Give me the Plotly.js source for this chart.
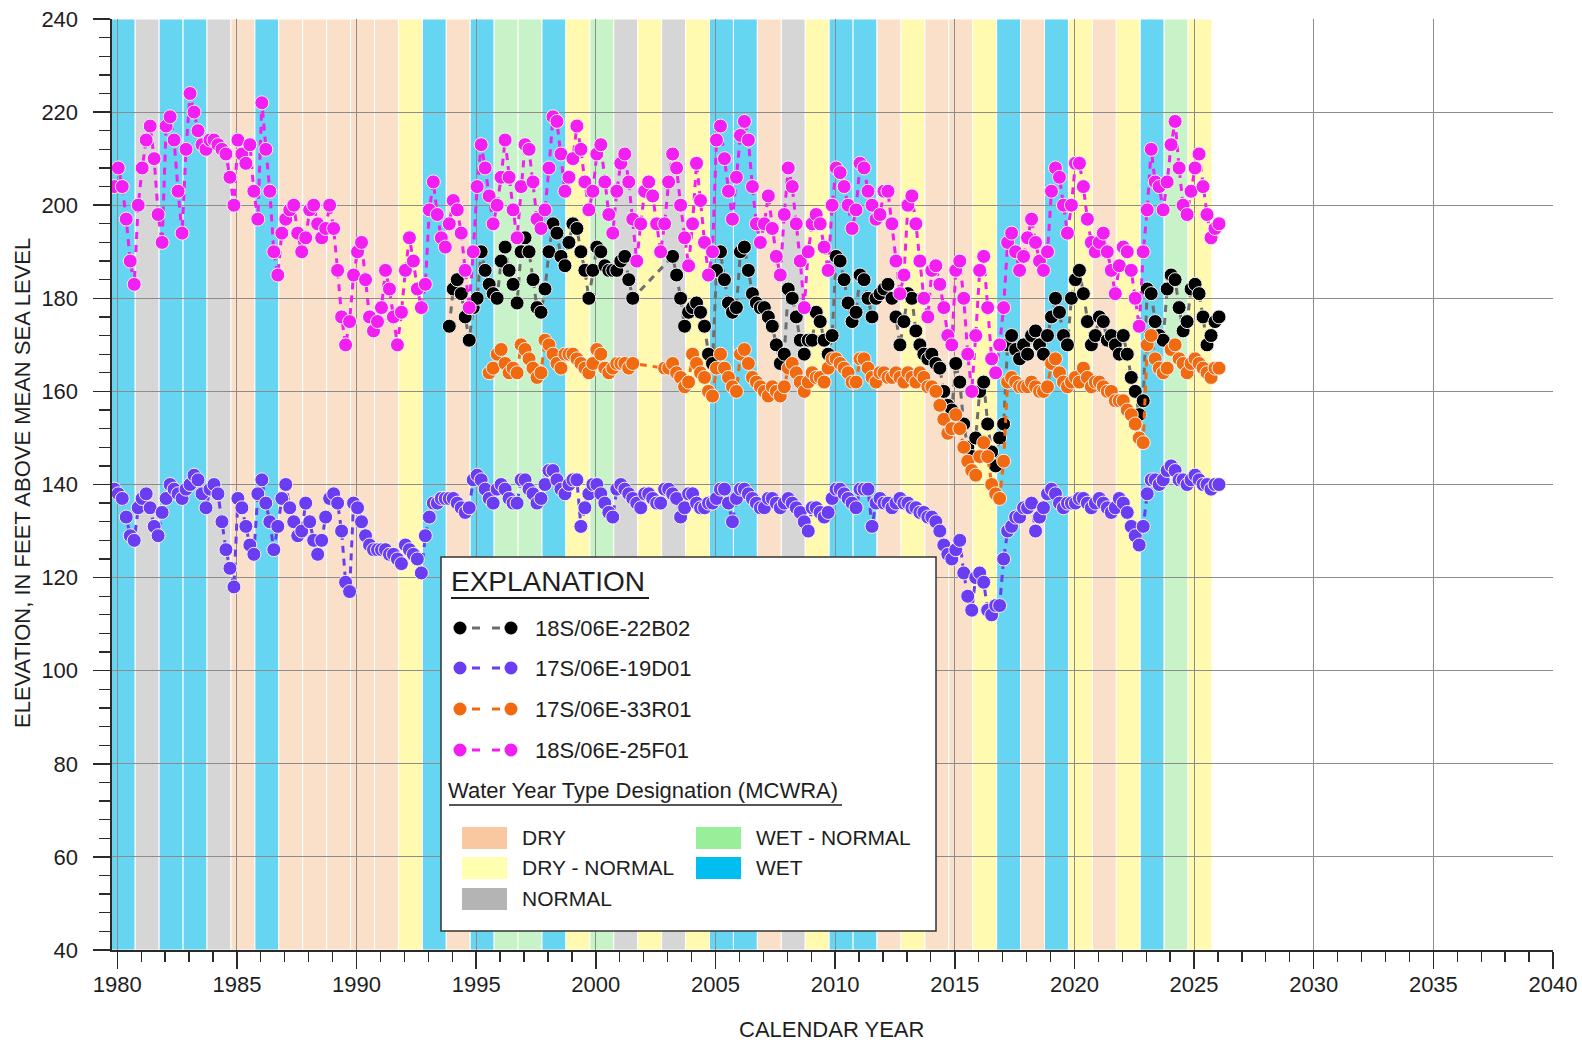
<!DOCTYPE html>
<html>
<head>
<meta charset="utf-8">
<script src="https://cdn.plot.ly/plotly-3.0.1.min.js"></script>
<style>
  html, body { margin: 0; padding: 0; background: #ffffff; }
  #chart { width: 1582px; height: 1045px; }
</style>
</head>
<body>
<div id="chart"></div>
<script>
// ---------------- DATA ----------------
// Sampling months (bi-monthly readings read off the hydrograph)
const sampleMonths = [1, 3, 5, 7, 9, 11];

// Well 18S/06E-22B02 (black) – one row per calendar year starting 1993
const firstYear22B02 = 1993;
const elev22B02 = [
  [null,null,null,null,null,174],
  [182,184,181,176,171,178],
  [180,190,186,183,181,180],
  [188,191,186,183,179,190],
  [193,190,184,178,177,182],
  [190,196,194,189,187,192],
  [196,195,190,186,180,186],
  [191,190,187,186,186,186],
  [188,189,184,180,null,null],
  [null,null,null,null,null,null],
  [null,189,185,180,174,177],
  [178,179,177,174,168,166],
  [186,190,184,179,177,178],
  [190,191,186,181,179,178],
  [178,176,174,170,166,168],
  [182,180,176,171,168,171],
  [171,177,175,171,168,172],
  [189,188,184,179,175,177],
  [185,184,180,176,180,181],
  [182,183,180,176,170,175],
  [181,180,173,170,168,167],
  [168,166,165,160,157,156],
  [166,162,153,148,146,150],
  [160,162,153,147,144,150],
  [153,170,172,169,167,170],
  [168,172,173,170,168,172],
  [176,180,177,172,170,180],
  [184,186,181,175,170,172],
  [176,175,171,172,170,168],
  [172,168,163,160,155,158],
  [182,181,175,172,171,182],
  [185,184,178,173,175,182],
  [183,181,176,170,172,175],
  [176,null,null,null,null,null]
];

// Well 17S/06E-19D01 (purple) – starting 1979
const firstYear19D01 = 1979;
const elev19D01 = [
  [null,null,null,null,null,139],
  [138,137,133,129,128,135],
  [137,138,135,131,129,134],
  [137,140,139,138,137,139],
  [140,142,141,138,135,139],
  [140,138,132,126,122,118],
  [137,135,131,127,125,138],
  [141,136,132,126,131,137],
  [140,135,132,129,130,136],
  [132,128,125,128,133,137],
  [138,136,130,119,117,136],
  [135,132,129,127,126,126],
  [126,126,125,125,124,123],
  [127,126,125,124,121,129],
  [133,136,136,137,137,137],
  [137,136,135,134,135,141],
  [142,141,139,137,136,139],
  [140,139,137,136,136,141],
  [141,139,138,136,137,140],
  [143,143,141,139,138,140],
  [141,141,131,135,138,140],
  [140,138,136,134,133,139],
  [140,139,138,137,136,135],
  [138,138,137,136,136,139],
  [139,138,137,133,135,138],
  [138,136,135,135,136,136],
  [137,139,139,136,132,137],
  [139,139,138,137,136,135],
  [135,137,137,136,135,136],
  [137,136,135,134,132,130],
  [135,135,134,133,134,137],
  [139,139,138,137,136,135],
  [139,139,139,131,136,137],
  [136,136,135,136,137,136],
  [136,135,135,134,134,133],
  [133,132,130,127,125,124],
  [126,128,121,116,113,120],
  [121,119,113,112,114,114],
  [124,130,131,133,133,135],
  [135,136,130,133,135,138],
  [139,138,136,135,136,136],
  [136,137,137,136,135,136],
  [137,136,135,134,135,137],
  [136,134,131,129,127,131],
  [138,141,141,140,141,143],
  [144,143,141,141,140,141],
  [142,141,140,140,139,140],
  [140,null,null,null,null,null]
];

// Well 17S/06E-33R01 (orange) – starting 1995
const firstYear33R01 = 1995;
const elev33R01 = [
  [null,null,null,164,165,168],
  [169,166,164,165,164,170],
  [169,167,165,163,164,171],
  [170,168,166,165,168,168],
  [168,167,166,165,164,166],
  [169,168,165,164,165,166],
  [166,166,165,166,null,null],
  [null,null,null,null,null,165],
  [165,166,164,163,161,162],
  [168,166,164,163,160,159],
  [165,168,165,163,161,160],
  [168,169,166,163,162,161],
  [160,159,161,160,159,161],
  [165,166,164,162,160,162],
  [164,163,163,162,165,167],
  [167,166,165,164,162,162],
  [167,167,165,163,162,164],
  [164,163,163,164,163,162],
  [164,163,162,164,163,161],
  [161,160,157,154,151,152],
  [155,152,148,145,143,142],
  [146,149,146,140,138,137],
  [145,162,163,162,161,161],
  [161,162,161,160,160,161],
  [166,167,164,162,161,162],
  [163,162,165,163,161,162],
  [162,161,160,160,158,158],
  [158,156,155,153,150,149],
  [170,172,167,165,164,165],
  [169,170,167,166,164,166],
  [167,166,165,164,163,165],
  [165,null,null,null,null,null]
];

// Well 18S/06E-25F01 (magenta) – starting 1979
const firstYear25F01 = 1979;
const elev25F01 = [
  [null,null,null,null,null,204],
  [208,204,197,188,183,200],
  [208,214,217,210,198,192],
  [217,219,214,203,194,212],
  [224,220,216,213,212,214],
  [214,213,212,211,206,200],
  [214,211,209,213,203,197],
  [222,212,203,190,185,194],
  [197,199,200,194,190,193],
  [199,200,196,193,195,200],
  [195,186,176,170,175,185],
  [190,192,184,176,173,175],
  [178,186,182,176,170,177],
  [186,193,188,182,178,183],
  [199,205,198,193,191,196],
  [201,199,194,186,178,190],
  [204,213,208,202,196,200],
  [206,214,206,199,193,204],
  [213,212,205,197,195,199],
  [208,219,218,211,203,206],
  [210,217,212,205,199,203],
  [211,213,205,198,194,203],
  [209,211,205,197,188,196],
  [203,205,202,196,190,196],
  [205,211,208,200,193,187],
  [196,209,201,192,185,190],
  [214,217,210,203,197,206],
  [215,218,214,204,196,192],
  [196,202,195,189,185,198],
  [208,204,196,188,178,190],
  [196,198,196,191,186,200],
  [208,207,204,200,195,199],
  [209,208,203,200,197,198],
  [203,203,196,188,181,185],
  [200,202,196,188,180,176],
  [186,187,183,178,172,170],
  [186,188,180,168,160,172],
  [186,189,178,167,164,170],
  [178,192,194,190,186,189],
  [193,197,192,188,186,190],
  [203,208,206,200,194,200],
  [209,209,204,197,192,190],
  [192,194,190,186,181,187],
  [191,190,186,180,174,190],
  [199,212,205,204,199,205],
  [213,218,208,200,198,203],
  [208,211,204,198,193,195],
  [196,null,null,null,null,null]
];

// Water year type designation (MCWRA), water years 1980-2025
const waterYears = [1980,1981,1982,1983,1984,1985,1986,1987,1988,1989,1990,1991,1992,1993,1994,1995,1996,1997,1998,1999,2000,2001,2002,2003,2004,2005,2006,2007,2008,2009,2010,2011,2012,2013,2014,2015,2016,2017,2018,2019,2020,2021,2022,2023,2024,2025];
const waterYearTypes = ['WET','NORMAL','WET','WET','NORMAL','DRY','WET','DRY','DRY','DRY','DRY','DRY','DRY - NORMAL','WET','DRY','WET','WET - NORMAL','WET - NORMAL','WET','DRY - NORMAL','WET - NORMAL','NORMAL','DRY - NORMAL','NORMAL','DRY - NORMAL','WET','WET','DRY','NORMAL','DRY - NORMAL','WET','WET','DRY','DRY - NORMAL','DRY','DRY','DRY - NORMAL','WET','DRY','WET','DRY - NORMAL','DRY','DRY - NORMAL','WET','WET - NORMAL','DRY - NORMAL'];

const seriesNames = ['18S/06E-22B02','17S/06E-19D01','17S/06E-33R01','18S/06E-25F01'];
const xTickVals = [1980,1985,1990,1995,2000,2005,2010,2015,2020,2025,2030,2035,2040];
const yTickVals = [40,60,80,100,120,140,160,180,200,220,240];

// ---------------- STYLE ----------------
const FONT = '"Liberation Sans", Arial, Helvetica, sans-serif';
const TXT = '#1e1e1e';
const bandColors = {
  'DRY': '#fadfc9',
  'DRY - NORMAL': '#fffab0',
  'NORMAL': '#d6d6d6',
  'WET - NORMAL': '#c8f3c8',
  'WET': '#66d5f1'
};
const legendPatchColors = {
  'DRY': '#f9c8a0',
  'DRY - NORMAL': '#ffffb0',
  'NORMAL': '#b4b4b4',
  'WET - NORMAL': '#99ee99',
  'WET': '#00bff0'
};
const markerColors = ['#000000','#6a3df2','#f26a10','#f21ef2'];
const lineColors = ['#6e6e6e','#6a3df2','#f26a10','#f21ef2'];

function build(firstYear, rows) {
  const x = [], y = [];
  rows.forEach((row, i) => row.forEach((v, j) => {
    if (v !== null) { x.push(firstYear + i + (sampleMonths[j] - 0.5) / 12); y.push(v); }
  }));
  return {x, y};
}

const allSeries = [
  build(firstYear22B02, elev22B02),
  build(firstYear19D01, elev19D01),
  build(firstYear33R01, elev33R01),
  build(firstYear25F01, elev25F01)
];

const traces = allSeries.map((s, k) => ({
  type: 'scatter', mode: 'lines+markers', name: seriesNames[k],
  x: s.x, y: s.y,
  line: {color: lineColors[k], width: 3, dash: '7px,6px'},
  marker: {color: markerColors[k], size: 14, line: {color: '#f4f4f4', width: 1}},
  showlegend: false, hoverinfo: 'x+y+name'
}));

// plot area in pixels
const L = 112, R = 1553, T = 19, B = 950;
const px = v => (v - L) / (R - L);
const py = v => (B - v) / (B - T);

const shapes = [];
// water-year bands (Oct 1 - Sep 30)
waterYears.forEach((wy, i) => {
  shapes.push({
    type: 'rect', xref: 'x', yref: 'y', layer: 'below',
    x0: wy - 0.25, x1: wy + 0.75, y0: 40, y1: 240,
    fillcolor: bandColors[waterYearTypes[i]],
    line: {color: '#ffffff', width: 1}
  });
});

// Legend box
shapes.push({type:'rect', xref:'paper', yref:'paper', layer:'above',
  x0: px(441), x1: px(936), y0: py(931), y1: py(557),
  fillcolor:'#ffffff', line:{color:'#333333', width:1.5}});
// underlines
shapes.push({type:'line', xref:'paper', yref:'paper', layer:'above',
  x0: px(451), x1: px(649), y0: py(598), y1: py(598), line:{color:TXT, width:2}});
shapes.push({type:'line', xref:'paper', yref:'paper', layer:'above',
  x0: px(449), x1: px(842), y0: py(805), y1: py(805), line:{color:TXT, width:1.5}});

const annotations = [];
const rowY = [628, 668, 709, 750];
seriesNames.forEach((name, k) => {
  const yy = py(rowY[k]);
  shapes.push({type:'line', xref:'paper', yref:'paper', layer:'above',
    x0: px(472), x1: px(501), y0: yy, y1: yy,
    line:{color: lineColors[k], width:3, dash:'8px,12px'}});
  [460, 511].forEach(cx => shapes.push({type:'circle', xref:'paper', yref:'paper', layer:'above',
    xsizemode:'pixel', ysizemode:'pixel', xanchor: px(cx), yanchor: yy,
    x0:-6.5, x1:6.5, y0:-6.5, y1:6.5, fillcolor: markerColors[k], line:{width:0}}));
  annotations.push({xref:'paper', yref:'paper', x: px(533), y: yy, xanchor:'left', yanchor:'middle',
    text: name, showarrow:false, font:{family:FONT, size:22, color:TXT}});
});

annotations.push({xref:'paper', yref:'paper', x: px(449), y: py(581), xanchor:'left', yanchor:'middle',
  text:'EXPLANATION', showarrow:false, font:{family:FONT, size:28, color:TXT}});
annotations.push({xref:'paper', yref:'paper', x: px(446), y: py(790), xanchor:'left', yanchor:'middle',
  text:'Water Year Type Designation (MCWRA)', showarrow:false, font:{family:FONT, size:22, color:TXT}});

const patchLayout = [
  {t:'DRY', x:462, y:838}, {t:'DRY - NORMAL', x:462, y:868}, {t:'NORMAL', x:462, y:899},
  {t:'WET - NORMAL', x:696, y:838}, {t:'WET', x:696, y:868}
];
patchLayout.forEach(p => {
  shapes.push({type:'rect', xref:'paper', yref:'paper', layer:'above',
    x0: px(p.x), x1: px(p.x + 45), y0: py(p.y + 11), y1: py(p.y - 11),
    fillcolor: legendPatchColors[p.t], line:{width:0}});
  annotations.push({xref:'paper', yref:'paper', x: px(p.x + 58), y: py(p.y - 1), xanchor:'left', yanchor:'middle',
    text: p.t, showarrow:false, font:{family:FONT, size:21, color:TXT}});
});

// axis titles
annotations.push({xref:'paper', yref:'paper', x: px(831), y: py(1029), xanchor:'center', yanchor:'middle',
  text:'CALENDAR YEAR', showarrow:false, font:{family:FONT, size:22, color:TXT}});
annotations.push({xref:'paper', yref:'paper', x: px(22), y: py(483), xanchor:'center', yanchor:'middle',
  textangle:-90, text:'ELEVATION, IN FEET ABOVE MEAN SEA LEVEL', showarrow:false,
  font:{family:FONT, size:22, color:TXT}});

const layout = {
  width: 1582, height: 1045,
  margin: {l: L, r: 1582 - R, t: T, b: 1045 - B, pad: 0},
  paper_bgcolor: '#ffffff', plot_bgcolor: '#ffffff',
  showlegend: false,
  xaxis: {
    range: [1979.78, 2040], tickvals: xTickVals, ticktext: xTickVals.map(String),
    showgrid: true, gridcolor: '#8c8c8c', gridwidth: 1, zeroline: false,
    showline: true, linecolor: '#2a2a2a', linewidth: 2,
    ticks: 'outside', ticklen: 17, tickwidth: 1.5, tickcolor: '#2a2a2a',
    minor: {dtick: 1, tick0: 1980, ticks: 'outside', ticklen: 10, tickwidth: 1.3, tickcolor: '#2a2a2a', showgrid: false},
    tickfont: {family: FONT, size: 22, color: TXT}, ticklabelstandoff: -3
  },
  yaxis: {
    range: [40, 240], tickvals: yTickVals, ticktext: yTickVals.map(String),
    showgrid: true, gridcolor: '#8c8c8c', gridwidth: 1, zeroline: false,
    showline: true, linecolor: '#2a2a2a', linewidth: 2.5,
    ticks: 'outside', ticklen: 17, tickwidth: 1.5, tickcolor: '#2a2a2a',
    minor: {dtick: 4, tick0: 40, ticks: 'outside', ticklen: 11, tickwidth: 1.3, tickcolor: '#2a2a2a', showgrid: false},
    tickfont: {family: FONT, size: 22, color: TXT}, ticklabelstandoff: 10
  },
  shapes: shapes,
  annotations: annotations,
  font: {family: FONT, color: TXT}
};

Plotly.newPlot('chart', traces, layout, {staticPlot: true, displayModeBar: false});
</script>
</body>
</html>
